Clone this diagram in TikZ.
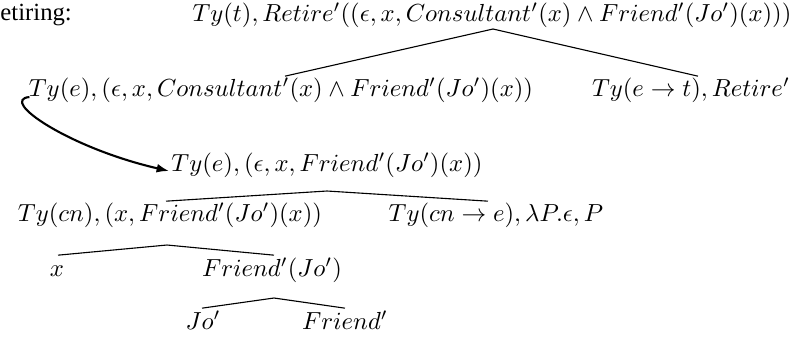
\documentclass[tikz,border=0pt]{standalone}
\usepackage{fontspec}
\newfontfamily\timesfont{Liberation Serif}
\usetikzlibrary{arrows.meta,calc}
\begin{document}
\begin{tikzpicture}[x=0.405pt,y=-0.405pt,
  lbl/.style={inner sep=0pt, text height=7.5pt, text depth=2.5pt},
  edge/.style={line width=0.45pt},
  move/.style={line width=0.85pt,-{Latex[length=5pt,width=3.6pt]}}]
\useasboundingbox (0,0) rectangle (803,343);
\node[anchor=base west,inner sep=0pt,font=\timesfont] (lab) at (0,20) {etiring:};
\node[lbl] (n1) at (492,15) {$Ty(t), Retire'((\epsilon, x, Consultant'(x) \wedge Friend'(Jo')(x)))$};
\node[lbl] (n2) at (281,90) {$Ty(e), (\epsilon, x, Consultant'(x) \wedge Friend'(Jo')(x))$};
\node[lbl] (n3) at (691,90) {$Ty(e \rightarrow t), Retire'$};
\node[lbl] (n4) at (327,165) {$Ty(e), (\epsilon, x, Friend'(Jo')(x))$};
\node[lbl] (n5) at (170,215) {$Ty(cn), (x, Friend'(Jo')(x))$};
\node[lbl] (n6) at (496,215) {$Ty(cn \rightarrow e), \lambda P.\epsilon, P$};
\node[lbl] (n7) at (57,270) {$x$};
\node[lbl] (n8) at (272,270) {$Friend'(Jo')$};
\node[lbl] (n9) at (203,323) {$Jo'$};
\node[lbl] (n10) at (345,323) {$Friend'$};
\coordinate (a1) at (493,29);
\coordinate (a4) at (327,191);
\coordinate (a5) at (167,245);
\coordinate (a8) at (274,298);
\draw[edge] ($(n2.north)+(4,-1)$) -- (a1) -- ($(n3.north)+(7,-1)$);
\draw[edge] ($(n5.north)+(-4,-1)$) -- (a4) -- ($(n6.north)+(-8,-1)$);
\draw[edge] ($(n7.north)+(1,-2)$) -- (a5) -- ($(n8.north)+(2,-2)$);
\draw[edge] ($(n9.north)+(-1,-2)$) -- (a8) -- ($(n10.north)+(0,-2)$);
\draw[move] ($(n2.west)+(1,7)$) .. controls +(-31,3) and +(-100,-23) .. ($(n4.west)+(-2,6)$);
\end{tikzpicture}
\end{document}
